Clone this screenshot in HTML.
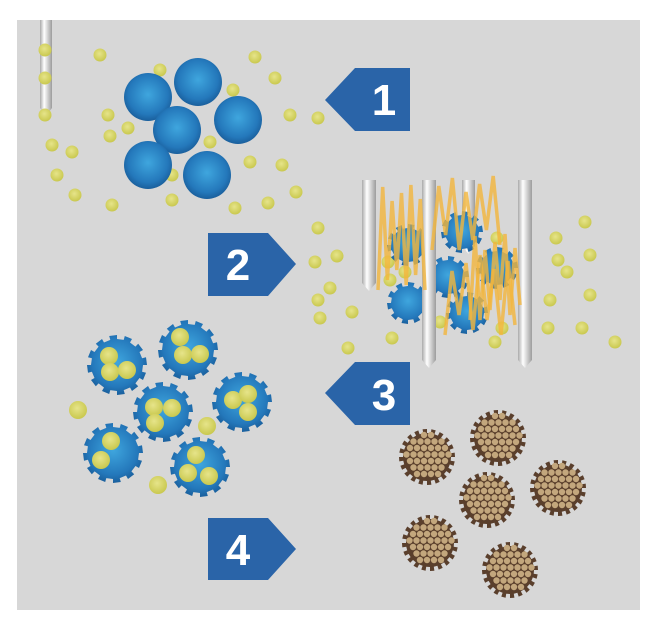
<!DOCTYPE html>
<html><head><meta charset="utf-8"><style>
html,body{margin:0;padding:0;background:#fff;}
svg{display:block;}
text{font-family:"Liberation Sans",sans-serif;font-weight:bold;}
</style></head><body>
<svg id="s" width="667" height="623" viewBox="0 0 667 623">
<defs>
<radialGradient id="blue" cx="50%" cy="45%" r="55%"><stop offset="0" stop-color="#3fa6de"/><stop offset="0.75" stop-color="#2478bb"/><stop offset="1" stop-color="#1a5f9c"/></radialGradient>
<radialGradient id="yel" cx="45%" cy="40%" r="60%"><stop offset="0" stop-color="#e6e48a"/><stop offset="1" stop-color="#c9c84e"/></radialGradient>
<linearGradient id="ndl" x1="0" x2="1"><stop offset="0" stop-color="#a9a9a9"/><stop offset="0.35" stop-color="#ffffff"/><stop offset="1" stop-color="#9c9c9c"/></linearGradient>
</defs>
<rect x="17" y="20" width="623" height="590" fill="#d7d7d7"/>
<g id="needles"></g>
<g id="dots"></g>
<g id="cl1"></g>
<g id="cl2"></g>
<g id="cl3"></g>
<g id="cl4"></g>
<g id="front"></g>
<g id="zig"></g>
<g><polygon points="325,100 355,68 410,68 410,131 355,131" fill="#2a64a8"/><text x="384" y="115" font-size="44" fill="#fff" text-anchor="middle">1</text></g>
<g><polygon points="208,233 268,233 296,264 268,296 208,296" fill="#2a64a8"/><text x="238" y="280" font-size="44" fill="#fff" text-anchor="middle">2</text></g>
<g><polygon points="325,393 355,362 410,362 410,425 355,425" fill="#2a64a8"/><text x="384" y="410" font-size="44" fill="#fff" text-anchor="middle">3</text></g>
<g><polygon points="208,518 268,518 296,549 268,580 208,580" fill="#2a64a8"/><text x="238" y="565" font-size="44" fill="#fff" text-anchor="middle">4</text></g>
</svg>
<script>
var NS="http://www.w3.org/2000/svg";
function mk(p,tag,a){var e=document.createElementNS(NS,tag);for(var k in a)e.setAttribute(k,a[k]);p.appendChild(e);return e;}
function $(i){return document.getElementById(i);}
function gear(cx,cy,r,n){var d="";for(var i=0;i<n*2;i++){var a=i*Math.PI/n;var rr=(i%2)?r:r-4;var a2=(i+1)*Math.PI/n;d+=(i?"L":"M")+(cx+rr*Math.cos(a)).toFixed(1)+","+(cy+rr*Math.sin(a)).toFixed(1)+"L"+(cx+rr*Math.cos(a2)).toFixed(1)+","+(cy+rr*Math.sin(a2)).toFixed(1);}return d+"Z";}
var nb=[[362,180,14,283],[462,180,13,246],[40,20,12,108]];
nb.forEach(function(n){var e=mk($("needles"),"path",{d:"M"+n[0]+","+n[1]+"h"+n[2]+"v"+(n[3]-n[1])+"l-"+n[2]/2+","+8+"l-"+n[2]/2+",-8z",fill:"url(#ndl)"});

});
var nf=[[422,180,14,360],[518,180,14,360]];
nf.forEach(function(n){var e=mk($("front"),"path",{d:"M"+n[0]+","+n[1]+"h"+n[2]+"v"+(n[3]-n[1])+"l-"+n[2]/2+","+8+"l-"+n[2]/2+",-8z",fill:"url(#ndl)"});

});
var fd=[[45,50],[100,55],[45,78],[160,70],[255,57],[275,78],[233,90],[45,115],[108,115],[128,128],[110,136],[52,145],[72,152],[210,142],[290,115],[318,118],[57,175],[172,175],[250,162],[282,165],[75,195],[112,205],[172,200],[235,208],[268,203],[296,192],[318,228],[315,262],[337,256],[330,288],[388,262],[405,272],[390,280],[320,318],[352,312],[318,300],[348,348],[392,338],[440,322],[497,238],[502,328],[495,342],[556,238],[585,222],[558,260],[590,255],[567,272],[550,300],[590,295],[548,328],[582,328],[615,342]];
fd.forEach(function(p){var e=mk($("dots"),"circle",{cx:p[0],cy:p[1],r:6.5,fill:"url(#yel)"});

});
[[148,97],[198,82],[177,130],[238,120],[148,165],[207,175]].forEach(function(p){var e=mk($("cl1"),"circle",{cx:p[0],cy:p[1],r:24,fill:"url(#blue)"});

});
[[408,245],[462,232],[448,277],[497,268],[408,303],[467,313]].forEach(function(p){var e=mk($("cl2"),"path",{d:gear(p[0],p[1],21,10),fill:"url(#blue)"});

});
var zz=[[378,180,425,290,0],[432,172,500,250,1],[445,250,515,335,2],[470,230,520,320,3]];
zz.forEach(function(z){var d="M"+z[0]+","+z[3];var n=10;for(var i=1;i<=n;i++){var x=z[0]+(z[2]-z[0])*i/n;var y=(i%2)?z[1]+((i+z[4])*7)%22:z[3]-((i+z[4])*5)%25;d+="L"+x.toFixed(1)+","+y;}
var e=mk($("zig"),"path",{d:d,fill:"none",stroke:"#f3b53c","stroke-width":3.5,opacity:0.8,"stroke-linejoin":"miter"});

});
var c3=[[117,365],[188,350],[242,402],[163,412],[113,453],[200,467]];
var inner=[[[-8,-9],[-7,7],[10,5]],[[-8,-13],[-5,5],[12,4]],[[-9,-2],[6,-8],[6,10]],[[-9,-5],[9,-4],[-8,11]],[[-2,-12],[-12,7]],[[-4,-12],[-12,6],[9,9]]];
c3.forEach(function(p,k){var e=mk($("cl3"),"path",{d:gear(p[0],p[1],30,12),fill:"url(#blue)"});


inner[k].forEach(function(o){var c=mk($("cl3"),"circle",{cx:p[0]+o[0],cy:p[1]+o[1],r:9,fill:"url(#yel)"});

});});
[[78,410],[207,426],[158,485]].forEach(function(p){var e=mk($("cl3"),"circle",{cx:p[0],cy:p[1],r:9,fill:"url(#yel)"});

});
var c4=[[427,457],[498,438],[487,500],[558,488],[430,543],[510,570]];
c4.forEach(function(p){var e=mk($("cl4"),"path",{d:gear(p[0],p[1],28,20),fill:"#5a3f2c"});


for(var y=-22;y<=22;y+=6.5)for(var x=-24;x<=24;x+=7){var xx=x+((Math.round((y+22)/6.5))%2?3.5:0);if(xx*xx+y*y<23*23)mk($("cl4"),"circle",{cx:p[0]+xx,cy:p[1]+y,r:3.2,fill:"#c3a77d"});}});
</script>
</body></html>
